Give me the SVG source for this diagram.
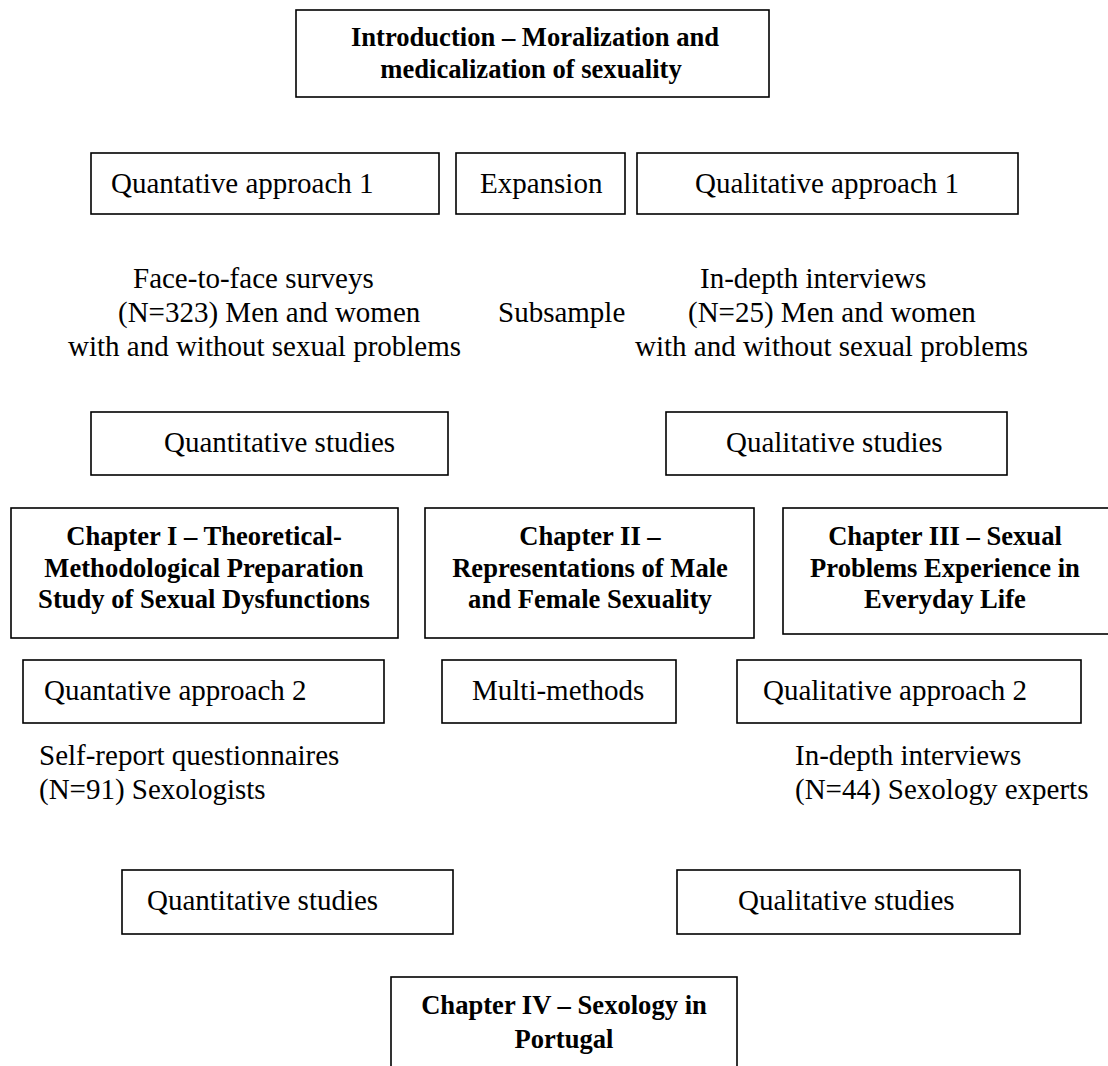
<svg xmlns="http://www.w3.org/2000/svg" width="1108" height="1066" viewBox="0 0 1108 1066">
<style>
.box{fill:#fff;stroke:#000;stroke-width:1.6}
.t{font-family:"Liberation Serif","Times New Roman",serif;font-size:29px;fill:#000}
.b{font-family:"Liberation Serif","Times New Roman",serif;font-size:26.6px;font-weight:bold;fill:#000;text-anchor:middle}
</style>
<rect width="1108" height="1066" fill="#fff"/>
<g id="connectors"/>
<g id="intro">
<rect class="box" x="296" y="10" width="473" height="87"/>
<text class="b" x="535" y="46">Introduction – Moralization and</text>
<text class="b" x="531" y="78">medicalization of sexuality</text>
</g>
<g id="quant1">
<rect class="box" x="91" y="153" width="348" height="61"/>
<text class="t" x="111" y="193">Quantative approach 1</text>
</g>
<g id="expansion">
<rect class="box" x="456" y="153" width="169" height="61"/>
<text class="t" x="480" y="193">Expansion</text>
</g>
<g id="qual1">
<rect class="box" x="637" y="153" width="381" height="61"/>
<text class="t" x="695" y="193">Qualitative approach 1</text>
</g>
<g id="sample1">
<text class="t" x="133" y="288">Face-to-face surveys</text>
<text class="t" x="118" y="322">(N=323) Men and women</text>
<text class="t" x="68" y="356">with and without sexual problems</text>
</g>
<g id="subsample">
<text class="t" x="498" y="322">Subsample</text>
</g>
<g id="sample2">
<text class="t" x="700" y="288">In-depth interviews</text>
<text class="t" x="688" y="322">(N=25) Men and women</text>
<text class="t" x="635" y="356">with and without sexual problems</text>
</g>
<g id="quantstudies1">
<rect class="box" x="91" y="412" width="357" height="63"/>
<text class="t" x="164" y="452">Quantitative studies</text>
</g>
<g id="qualstudies1">
<rect class="box" x="666" y="412" width="341" height="63"/>
<text class="t" x="726" y="452">Qualitative studies</text>
</g>
<g id="chapter1">
<rect class="box" x="11" y="508" width="387" height="130"/>
<text class="b" x="204" y="545">Chapter I – Theoretical-</text>
<text class="b" x="204" y="577">Methodological Preparation</text>
<text class="b" x="204" y="608">Study of Sexual Dysfunctions</text>
</g>
<g id="chapter2">
<rect class="box" x="425" y="508" width="329" height="130"/>
<text class="b" x="590" y="545">Chapter II –</text>
<text class="b" x="590" y="577">Representations of Male</text>
<text class="b" x="590" y="608">and Female Sexuality</text>
</g>
<g id="chapter3">
<rect class="box" x="783" y="508" width="330" height="126"/>
<text class="b" x="945" y="545">Chapter III – Sexual</text>
<text class="b" x="945" y="577">Problems Experience in</text>
<text class="b" x="945" y="608">Everyday Life</text>
</g>
<g id="quant2">
<rect class="box" x="23" y="660" width="361" height="63"/>
<text class="t" x="44" y="700">Quantative approach 2</text>
</g>
<g id="multimethods">
<rect class="box" x="442" y="660" width="234" height="63"/>
<text class="t" x="472" y="700">Multi-methods</text>
</g>
<g id="qual2">
<rect class="box" x="737" y="660" width="344" height="63"/>
<text class="t" x="763" y="700">Qualitative approach 2</text>
</g>
<g id="sample3">
<text class="t" x="39" y="765">Self-report questionnaires</text>
<text class="t" x="39" y="799">(N=91) Sexologists</text>
</g>
<g id="sample4">
<text class="t" x="795" y="765">In-depth interviews</text>
<text class="t" x="795" y="799">(N=44) Sexology experts</text>
</g>
<g id="quantstudies2">
<rect class="box" x="122" y="870" width="331" height="64"/>
<text class="t" x="147" y="910">Quantitative studies</text>
</g>
<g id="qualstudies2">
<rect class="box" x="677" y="870" width="343" height="64"/>
<text class="t" x="738" y="910">Qualitative studies</text>
</g>
<g id="chapter4">
<rect class="box" x="391" y="977" width="346" height="100"/>
<text class="b" x="564" y="1014">Chapter IV – Sexology in</text>
<text class="b" x="564" y="1048">Portugal</text>
</g>
</svg>
